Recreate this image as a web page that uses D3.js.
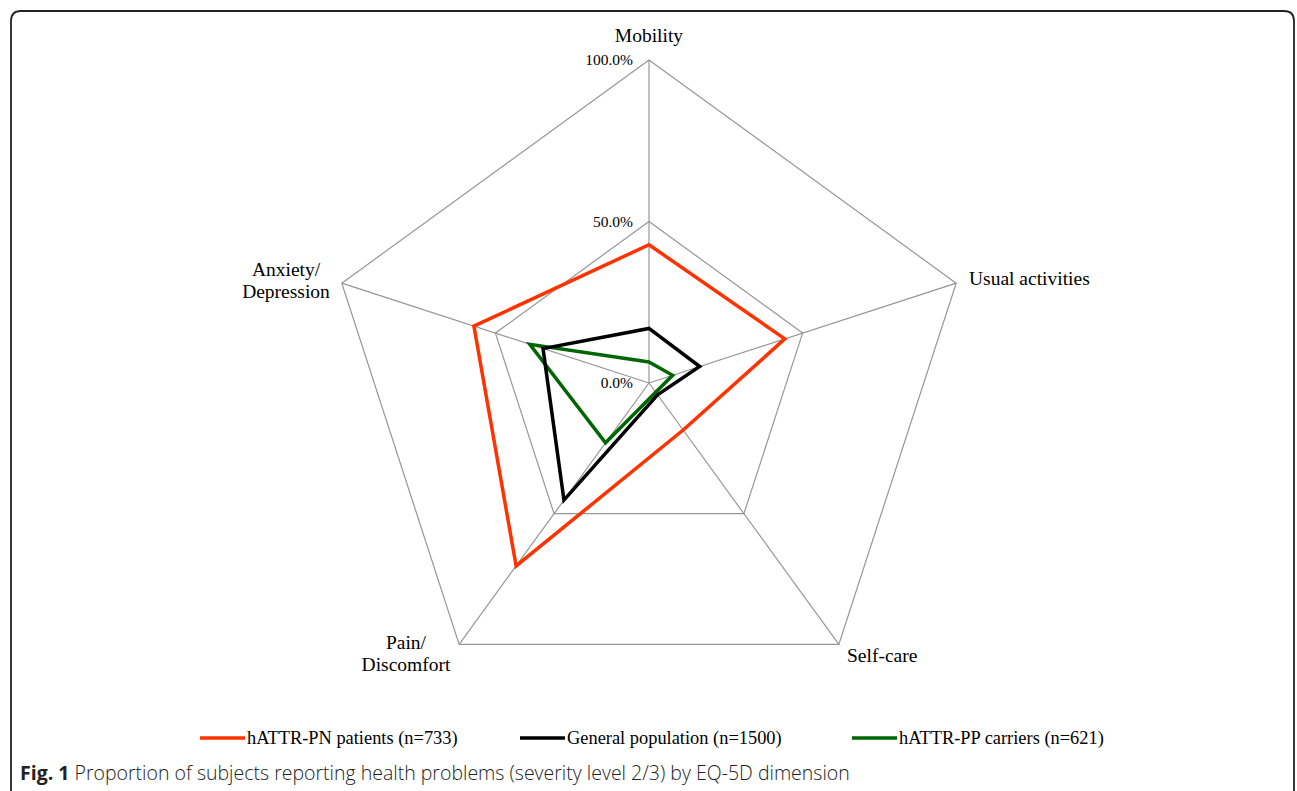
<!DOCTYPE html>
<html><head><meta charset="utf-8">
<script src="https://cdn.jsdelivr.net/npm/d3@7"></script>
<style>body{margin:0;background:#fff;} svg{display:block;}</style>
</head><body>
<script>
const dimensions = ["Mobility", "Usual activities", "Self-care", "Pain/Discomfort", "Anxiety/Depression"];
const seriesNames = ["hATTR-PN patients (n=733)", "General population (n=1500)", "hATTR-PP carriers (n=621)"];
const hattrPN = [42.8, 44.2, 18.0, 70.0, 57.0];
const generalPop = [16.9, 16.5, 4.5, 44.8, 34.5];
const hattrPP = [6.5, 7.7, 3.5, 22.9, 38.8];
const gridLevels = [0, 50, 100];
const gridLabels = ["0.0%", "50.0%", "100.0%"];
const colors = ["#ff3300", "#000000", "#006600"];

const W = 1297, H = 791;
const svg = d3.select("body").append("svg").attr("width", W).attr("height", H);

svg.append("path")
  .attr("d", "M11,800 L11,21 Q11,11 21,11 L1284,11 Q1294,11 1294,21 L1294,800")
  .attr("fill", "none").attr("stroke", "#222").attr("stroke-width", 1.8);

const cx = 649, cy = 383;
const r = d3.scaleLinear().domain([0, 100]).range([0, 323]);
const n = dimensions.length;
const ang = i => i * 2 * Math.PI / n;
const pt = (i, v) => [cx + r(v) * Math.sin(ang(i)), cy - r(v) * Math.cos(ang(i))];

const g = svg.append("g");
gridLevels.filter(l => l > 0).forEach(l => {
  g.append("polygon")
    .attr("points", d3.range(n).map(i => pt(i, l).join(",")).join(" "))
    .attr("fill", "none").attr("stroke", "#969696").attr("stroke-width", 1.2);
});
d3.range(n).forEach(i => {
  const p = pt(i, 100);
  g.append("line").attr("x1", cx).attr("y1", cy).attr("x2", p[0]).attr("y2", p[1])
    .attr("stroke", "#969696").attr("stroke-width", 1.2);
});
gridLevels.forEach((l, k) => {
  g.append("text").attr("x", cx - 16).attr("y", cy - r(l) + 5)
    .attr("text-anchor", "end").attr("font-family", "Liberation Serif").attr("font-size", 15.5)
    .text(gridLabels[k]);
});

const allSeries = [hattrPN, generalPop, hattrPP];
const line = d3.line().curve(d3.curveLinearClosed);
[2, 1, 0].forEach(s => {
  g.append("path")
    .attr("d", line(allSeries[s].map((v, i) => pt(i, v))))
    .attr("fill", "none").attr("stroke", colors[s]).attr("stroke-width", 3.5)
    .attr("stroke-linejoin", "miter");
});

const lbl = (x, y, lines, anchor) => {
  const t = svg.append("text").attr("x", x).attr("y", y).attr("text-anchor", anchor)
    .attr("font-family", "Liberation Serif").attr("font-size", 19.5).attr("fill", "#000");
  lines.forEach((s, k) => t.append("tspan").attr("x", x).attr("dy", k === 0 ? 0 : 22).text(s));
};
lbl(649, 42, ["Mobility"], "middle");
lbl(969, 285, ["Usual activities"], "start");
lbl(847, 662, ["Self-care"], "start");
lbl(406, 649, ["Pain/", "Discomfort"], "middle");
lbl(286, 276, ["Anxiety/", "Depression"], "middle");

const legX = [200, 520, 852];
seriesNames.forEach((name, s) => {
  svg.append("line").attr("x1", legX[s]).attr("x2", legX[s] + 45).attr("y1", 738).attr("y2", 738)
    .attr("stroke", colors[s]).attr("stroke-width", 3.5);
  svg.append("text").attr("x", legX[s] + 47).attr("y", 744)
    .attr("font-family", "Liberation Serif").attr("font-size", 18.4).text(name);
});

const cap = svg.append("text").attr("x", 20).attr("y", 780)
  .attr("font-family", "Open Sans").attr("font-size", 19.5).attr("fill", "#222");
cap.append("tspan").attr("font-weight", "bold").text("Fig. 1");
cap.append("tspan").attr("font-weight", 300).text(" Proportion of subjects reporting health problems (severity level 2/3) by EQ-5D dimension");
</script>
</body></html>
